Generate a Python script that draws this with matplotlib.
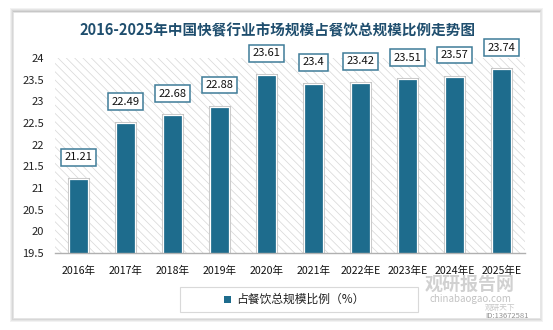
import matplotlib
matplotlib.use("Agg")
import matplotlib.pyplot as plt
from matplotlib.patches import Rectangle

plt.rcParams['font.family'] = ['Noto Sans CJK SC', 'DejaVu Sans']
plt.rcParams['hatch.linewidth'] = 0.55
plt.rcParams['hatch.color'] = '#dadada'

years = ['2016年', '2017年', '2018年', '2019年', '2020年', '2021年',
         '2022年E', '2023年E', '2024年E', '2025年E']
share = [21.21, 22.49, 22.68, 22.88, 23.61, 23.4, 23.42, 23.51, 23.57, 23.74]
value_labels = ['21.21', '22.49', '22.68', '22.88', '23.61', '23.4',
                '23.42', '23.51', '23.57', '23.74']
yticks = [19.5, 20, 20.5, 21, 21.5, 22, 22.5, 23, 23.5, 24]
ytick_labels = ['19.5', '20', '20.5', '21', '21.5', '22', '22.5', '23', '23.5', '24']
title = '2016-2025年中国快餐行业市场规模占餐饮总规模比例走势图'
legend_label = '占餐饮总规模比例（%）'

W, H = 553, 330
fig = plt.figure(figsize=(W / 100, H / 100), dpi=100)
fig.patch.set_facecolor('white')

def fx(px):
    return px / W

def fy(py):
    return 1 - py / H

# card with soft shadow
for i, a in enumerate([0.05, 0.05, 0.06, 0.07]):
    off = 4 - i
    fig.patches.append(Rectangle((fx(13 - off + 1), fy(318 + off)), fx(527 + 2 * off - 2), (306 + 2 * off) / H,
                                 transform=fig.transFigure, facecolor='black', alpha=a,
                                 edgecolor='none', zorder=0))
fig.patches.append(Rectangle((fx(13), fy(318)), fx(527), 306 / H, transform=fig.transFigure,
                             facecolor='white', edgecolor='#e6e6e6', lw=0.6, zorder=0.5))

BAR = '#1e6c8d'
ax = fig.add_axes([fx(55), fy(253), fx(525 - 55), (253 - 58) / H])
ax.set_zorder(2)
ax.set_facecolor('none')
ax.add_patch(Rectangle((0, 0), 1, 1, transform=ax.transAxes, facecolor='white',
                       hatch='\\\\\\\\', edgecolor='#dadada', lw=0, zorder=0))

x = list(range(len(years)))
ax.bar(x, share, width=0.42, bottom=0, color=BAR, edgecolor='#c4c4c4', linewidth=2.2, zorder=2)
ax.bar(x, share, width=0.42, bottom=0, color=BAR, edgecolor='white', linewidth=0.9, zorder=3)

ax.set_xlim(-0.5, len(years) - 0.5)
ax.set_ylim(19.5, 24)
ax.set_yticks(yticks)
ax.set_yticklabels(ytick_labels, fontsize=8, color='#222222')
ax.set_xticks(x)
ax.set_xticklabels(years, fontsize=7.6, color='#111111')
ax.tick_params(axis='both', length=0)
ax.tick_params(axis='y', pad=8)
ax.tick_params(axis='x', pad=9)
for s in ['left', 'right', 'top']:
    ax.spines[s].set_visible(False)
ax.spines['bottom'].set_color('#b0b0b0')
ax.spines['bottom'].set_linewidth(1)
ax.spines['bottom'].set_zorder(4)

for xi, v, lab in zip(x, share, value_labels):
    ax.annotate(lab, (xi, v), xytext=(0, 12), textcoords='offset points',
                ha='center', va='bottom', fontsize=8, color='#111111', zorder=5,
                annotation_clip=False,
                bbox=dict(boxstyle='square,pad=0.3', facecolor='white',
                          edgecolor='#3f7c98', linewidth=1.1))

fig.text(fx(277), fy(30), title, ha='center', va='center', fontsize=10.5,
         fontweight='bold', color='#1f4e6e', zorder=3)

# legend
fig.patches.append(Rectangle((fx(180), fy(312)), fx(238), 25 / H, transform=fig.transFigure,
                             facecolor='white', edgecolor='#d9d9d9', lw=0.8, zorder=1))
fig.patches.append(Rectangle((fx(224), fy(303)), fx(7), 7 / H, transform=fig.transFigure,
                             facecolor=BAR, edgecolor='none', zorder=2))
fig.text(fx(236), fy(299.5), legend_label, ha='left', va='center', fontsize=8.5,
         color='#222222', zorder=3)

# watermark
fig.text(fx(470), fy(284), '观研报告网', ha='center', va='center', fontsize=13,
         fontweight='bold', color='#9a9a9a', alpha=0.45, zorder=6)
fig.text(fx(470), fy(299), 'chinabaogao.com', ha='center', va='center', fontsize=7,
         color='#9a9a9a', alpha=0.6, zorder=6)
fig.text(fx(485), fy(308), '观研天下', ha='left', va='center', fontsize=5.5,
         color='#b0b0b0', alpha=0.7, zorder=6)
fig.text(fx(485), fy(316), 'ID:13672581', ha='left', va='center', fontsize=5.5,
         color='#777777', alpha=0.8, zorder=6)

fig.savefig('out.png', dpi=100)
